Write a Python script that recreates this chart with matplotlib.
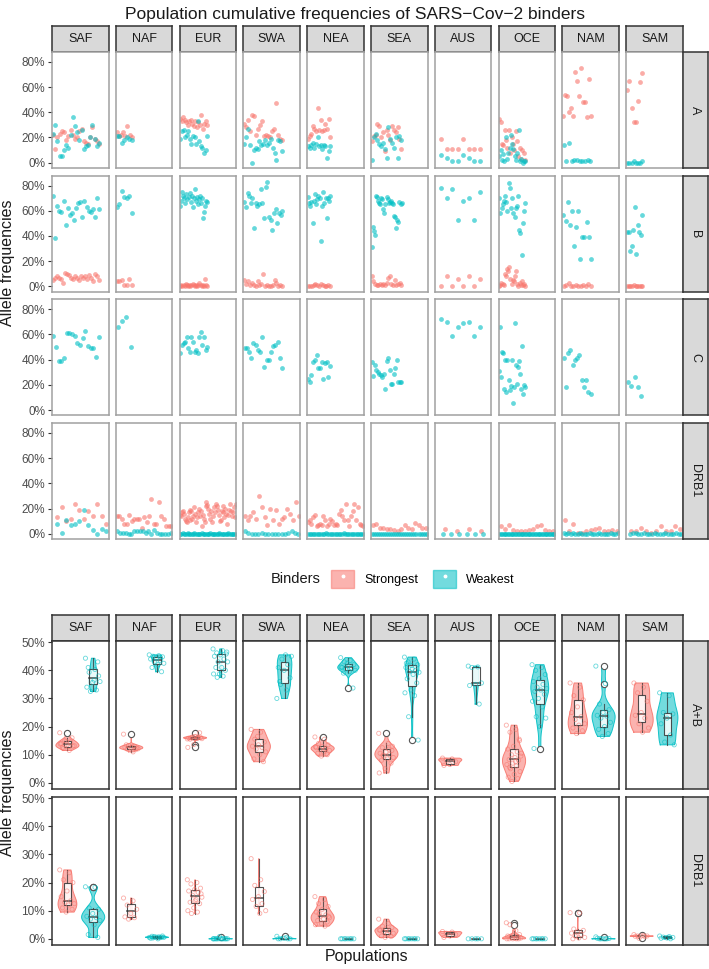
import numpy as np
import matplotlib.pyplot as plt
from matplotlib.patches import Patch, Rectangle
from matplotlib.lines import Line2D

plt.rcParams['font.family'] = ['Liberation Sans', 'DejaVu Sans']

regions = ['SAF', 'NAF', 'EUR', 'SWA', 'NEA', 'SEA', 'AUS', 'OCE', 'NAM', 'SAM']
top_genes = ['A', 'B', 'C', 'DRB1']
bottom_genes = ['A+B', 'DRB1']

# ---- top grid: cumulative frequency (%) per population, left to right, one list per region
a_strong = [
    [22, 11, 20, 23, 25, 24, 18, 21, 26, 22, 19, 20, 25, 27, 17, 16, 15, 20, 28, 19, 17, 15],
    [24, 21, 22, 24, 21, 29, 22, 20],
    [35, 33, 36, 34, 32, 30, 33, 34, 31, 29, 33, 28, 32, 30, 38, 27, 31, 33, 30],
    [31, 28, 34, 25, 38, 37, 22, 27, 30, 33, 21, 22, 21, 20, 25, 27, 47, 22, 19, 18],
    [19, 21, 23, 29, 27, 25, 43, 26, 34, 25, 26, 31, 27, 35, 20],
    [17, 21, 22, 31, 29, 20, 24, 9, 26, 22, 18, 29, 26, 24, 28, 19, 11],
    [19, 11, 11, 11, 19, 11, 11, 11],
    [35, 32, 15, 14, 26, 18, 12, 26, 8, 20, 15, 10, 25, 17, 5, 12, 3, 10, 8, 2],
    [37, 54, 53, 40, 43, 37, 72, 65, 53, 75, 48, 48, 36, 66, 37],
    [58, 65, 43, 32, 32, 49, 64, 71],
]
a_weak = [
    [23, 30, 17, 5, 5, 10, 14, 12, 22, 36, 29, 24, 18, 26, 11, 13, 14, 20, 30, 19, 13, 16],
    [21, 21, 16, 18, 20, 19, 18],
    [19, 25, 26, 20, 22, 25, 19, 15, 21, 20, 15, 33, 17, 13, 12, 8, 10, 21],
    [15, 20, 27, 14, 0, 10, 12, 11, 17, 14, 15, 18, 14, 16, 19, 12, 8, 2, 18, 17, 9],
    [13, 12, 14, 16, 12, 15, 20, 13, 14, 11, 14, 13, 4, 9, 13],
    [2, 20, 23, 18, 15, 13, 16, 11, 4, 28, 19, 16, 12, 20, 4, 21, 18],
    [6, 4, 1, 1, 6, 4, 1, 1],
    [5, 10, 2, 7, 1, 20, 3, 8, 12, 22, 15, 11, 5, 2, 8, 26, 1, 3, 0, 1, 1],
    [14, 1, 16, 1, 2, 2, 1, 1, 1, 2, 1],
    [0, 0, 0, 1, 0, 0, 0, 1],
]
b_strong = [
    [5, 7, 8, 7, 6, 3, 11, 10, 9, 7, 6, 8, 7, 5, 8, 7, 8, 6, 9, 7, 4, 10, 8, 5],
    [4, 4, 5, 1, 1, 6, 1],
    [0, 1, 0, 1, 0, 2, 1, 0, 1, 0, 1, 2, 1, 0, 1, 0, 1, 3, 1, 0, 1, 0, 6, 1, 0],
    [5, 2, 4, 1, 3, 1, 0, 4, 1, 2, 10, 0, 1, 0, 0, 1, 5, 3, 0, 1, 0],
    [0, 0, 0, 1, 2, 1, 0, 2, 1, 0, 0, 1, 0],
    [8, 4, 2, 1, 1, 2, 1, 2, 1, 3, 7, 8, 2, 1, 5, 1, 2, 3, 1],
    [0, 8, 0, 6, 0, 8, 0, 6],
    [0, 1, 3, 2, 1, 10, 8, 14, 12, 15, 6, 2, 5, 4, 8, 12, 2, 0, 3, 1, 4, 1, 2, 0],
    [0, 1, 3, 0, 0, 1, 0, 0, 1, 0, 2, 0],
    [0, 0, 0, 0, 1, 0, 0, 0, 0, 0],
]
b_weak = [
    [72, 38, 64, 60, 59, 68, 49, 62, 57, 58, 53, 62, 66, 67, 55, 68, 63, 60, 59, 61, 55, 70, 61],
    [63, 65, 76, 71, 70, 72, 58],
    [64, 68, 75, 72, 70, 66, 73, 69, 71, 74, 67, 72, 63, 70, 77, 68, 71, 65, 69, 72, 66, 70, 54, 59, 64, 68, 67],
    [67, 63, 74, 72, 66, 70, 46, 66, 64, 65, 77, 66, 54, 79, 83, 55, 53, 45, 58, 61, 50, 58, 57, 60],
    [71, 66, 64, 67, 50, 68, 73, 65, 69, 72, 70, 36, 64, 75, 66, 70, 54, 70, 68, 72],
    [31, 47, 44, 41, 72, 71, 68, 66, 65, 70, 69, 61, 58, 65, 71, 69, 66, 67, 68, 66, 65, 56, 55, 46, 53, 51, 67, 65, 66],
    [78, 70, 77, 53, 68, 70, 53, 75],
    [70, 58, 62, 65, 68, 72, 67, 60, 82, 78, 62, 70, 58, 55, 62, 64, 72, 45, 42, 25, 50, 60, 66],
    [57, 52, 67, 49, 60, 32, 47, 60, 22, 39, 39, 51, 39, 22],
    [43, 43, 28, 32, 45, 63, 26, 49, 43, 41, 57],
]
c_strong = [[], [], [], [], [], [], [], [], [], []]
c_weak = [
    [59, 50, 39, 39, 41, 61, 61, 60, 59, 53, 52, 57, 63, 51, 49, 49, 42, 58],
    [66, 71, 74, 50],
    [45, 52, 53, 54, 58, 49, 46, 58, 54, 46, 48, 45, 58, 62, 52, 58, 48, 50],
    [49, 49, 46, 41, 53, 52, 48, 46, 58, 34, 40, 40, 46, 51, 52, 54, 41, 33],
    [25, 22, 28, 38, 40, 44, 33, 33, 38, 25, 37, 38, 26, 35],
    [38, 27, 36, 32, 30, 29, 28, 26, 29, 17, 39, 41, 32, 21, 21, 29, 33, 40, 22, 22, 22],
    [72, 70, 59, 66, 69, 70, 59, 66],
    [31, 66, 26, 46, 45, 17, 40, 14, 40, 24, 16, 19, 40, 6, 18, 69, 36, 21, 34, 39, 29, 17, 51, 13, 20, 18],
    [41, 18, 45, 48, 36, 40, 41, 44, 24, 18, 24, 14, 13],
    [22, 19, 26, 18, 11],
]
drb1_strong = [
    [13, 21, 10, 12, 24, 19, 12, 18, 14, 24, 14, 8],
    [14, 14, 12, 8, 8, 15, 10, 12, 12, 12, 5, 13, 9, 14, 28, 8, 8, 25, 14, 12, 6, 6, 6],
    [15, 14, 17, 18, 16, 12, 10, 9, 13, 17, 19, 11, 18, 12, 14, 21, 16, 9, 13, 17, 20, 14, 18, 6, 15,
     12, 9, 22, 25, 23, 20, 16, 12, 18, 9, 14, 21, 17, 24, 22, 19, 15, 10, 11, 18, 22, 17, 13, 20, 16,
     8, 15, 19, 24, 18, 14, 17, 21, 13, 24],
    [14, 11, 14, 17, 12, 30, 21, 13, 7, 20, 11, 19, 8, 12, 13, 20, 16, 11, 25, 14],
    [9, 11, 8, 13, 15, 6, 7, 8, 7, 14, 11, 6, 8, 12, 10, 7, 8, 7, 16, 19, 14, 11, 24, 11, 6, 14, 18,
     24, 11, 21, 8, 7, 6],
    [7, 8, 5, 4.5, 3.8, 3.8, 3.4, 2, 3.8, 7, 4.5, 3.8, 8.8, 7, 4.5, 4.5],
    [3.8, 2, 3.8, 2],
    [6, 3.8, 7, 3, 2, 2.5, 2, 3, 4, 6, 7, 3, 2, 2],
    [11, 2, 8, 1, 1, 2.5, 3, 4, 5, 2, 2.5, 3, 2],
    [2, 2, 5, 2.5, 1, 2.5, 6, 2.5, 2, 6.5, 4],
]
drb1_weak = [
    [8, 1, 11, 7, 8, 10, 19, 7, 3, 0, 4, 2],
    [2, 1, 1, 1, 0, 0, 2, 2, 2, 2, 1, 2, 0, 3, 1, 0, 0, 0, 0, 1],
    [0, 0, 0.5, 0, 0, 0, 0.5, 0, 0, 0, 0, 0.5, 0, 0, 0, 0, 0, 0.5, 0, 0, 0, 0, 0, 0, 0.5, 0, 0, 0,
     0, 0, 0, 0.5, 0, 0, 0, 0, 0, 0, 0.5, 0, 0, 0, 0, 0, 0],
    [2, 1, 0, 0, 0, 1, 0, 0, 0, 0, 0, 0, 0, 1, 2, 1, 0],
    [0, 0, 0, 0, 0, 0, 0, 0, 0, 0, 0, 0.5, 0, 0, 0, 0, 0, 0, 0, 0, 0, 0, 0.5, 0, 0, 0, 0, 0, 0, 0,
     0, 0, 0, 0, 0],
    [0, 0, 0, 0, 0, 0, 0, 0, 0, 0, 0, 0, 0, 0, 0, 0, 0, 0, 0, 0, 0, 0, 0, 0, 0, 0, 0, 0],
    [0, 0, 0, 0, 0, 0],
    [0, 0, 0, 0, 0, 0, 0, 0, 0, 0, 0, 0, 0, 0, 0, 0, 0, 0, 0, 0, 0, 0, 0, 0, 0, 0, 0, 0, 0, 0, 0, 0,
     0, 0, 0, 0, 0, 0, 0, 0],
    [0.5, 0, 0.5, 0, 1, 0, 0, 0.5, 0, 0, 0, 0.5, 0, 0, 0, 0.5, 0, 0, 0, 0, 0.5, 0, 0, 0.5],
    [0, 0.5, 1, 0, 0, 0.5, 0, 0, 0, 0.5, 0, 0, 0, 0.5, 0, 0, 0, 1, 0, 0],
]

# ---- bottom grid: per-population cumulative frequency (%) of binders
ab_strong = [
    [17.8, 11.5, 12.2, 13, 13.5, 14, 14.5, 15, 13.2, 12.8, 12.5, 16, 14.8, 13.8],
    [17.3, 11, 12, 12.3, 12.5, 12.7, 13, 13.3, 12.1, 12.8, 13.5, 11.8],
    [15.6, 15.8, 16.0, 16.2, 16.4, 15.9, 16.1, 16.3, 15.7, 16.5, 15.5, 17.8, 13.6, 12.6, 16.0],
    [19, 18, 15.5, 14.5, 13.5, 13, 12.6, 12, 11, 10, 8.5, 7.5, 16.5],
    [16.3, 15.5, 14, 13.5, 13, 12.5, 12.2, 12, 11.5, 11, 10.5, 10, 9.5, 12.8, 11.8],
    [17.6, 14, 12.5, 11.5, 11, 10.5, 10, 9.5, 9, 8.5, 8, 7, 5, 3.5, 12, 9.8, 13],
    [8.8, 8.5, 8, 7.5, 6.5, 6.2],
    [20.5, 19, 18, 15, 13, 12, 11, 10, 9.5, 9, 8.3, 8, 7, 6.5, 6, 5, 4, 3, 2, 1.5, 0.5, 10.5, 7.5,
     5.5, 15.5],
    [35.5, 34, 31, 29.5, 27, 25, 23.5, 22.5, 21, 20.5, 19.5, 18.5, 17.5],
    [35.5, 34, 32, 29, 25, 24, 23, 21, 19.5, 18],
]
ab_weak = [
    [44.3, 40.3, 39.3, 38, 35.7, 34, 33, 32.5, 36, 36.5, 41, 43],
    [45.5, 45.2, 45, 44.8, 44.5, 44, 43.5, 43, 42.5, 42, 41, 39.5],
    [47.6, 47, 46.2, 45.8, 45.5, 45, 44, 43, 43, 41, 41, 40, 38.7, 38.7, 37.9, 37.5, 46.5],
    [30, 33, 35, 37.3, 40, 41, 42, 44, 45, 45.5, 36],
    [44.5, 43.5, 43, 42, 41.5, 41, 40.8, 40.5, 40, 39.5, 39, 33.7, 42.5, 41.2],
    [44.7, 44, 43, 42, 41.7, 41, 40, 39.5, 39.3, 38.5, 37, 35.5, 33, 32, 31, 23.5, 15.2, 40.5, 42.5],
    [41.5, 41.2, 41, 35.5, 35, 34.6, 28],
    [42, 41, 40, 38.5, 37, 36, 35, 34, 33.5, 33, 32.5, 31.5, 30, 29, 27, 23.5, 23, 20, 12.2],
    [41.5, 35.3, 28, 26, 25, 24, 23.7, 23, 21.5, 20, 19, 17.5, 16.5],
    [32, 31, 25, 24.5, 23, 21, 17, 14.5, 13.5],
]
dr_strong = [
    [24.5, 23.5, 21, 20, 17, 15, 13.5, 13, 12.5, 12, 11, 10.5, 9.5],
    [14.5, 13.5, 12, 10.5, 9, 7.8, 7.5, 7],
    [21, 20, 19.5, 18, 17.5, 17, 16.5, 15.5, 14.8, 14, 13, 12.5, 11, 10, 9.5, 9, 16, 13.5],
    [28.5, 21, 19, 16.8, 15, 14, 12.5, 11.5, 10, 9],
    [15, 14, 12.5, 11.5, 10.5, 9.5, 8.5, 8, 7.5, 7, 6.5, 6, 5.5, 5, 4.5, 9, 8],
    [7, 5.5, 4.5, 4, 3.5, 3, 2.8, 2.5, 2, 1.5, 1, 0.8, 0.5, 3.2],
    [2.6, 2.4, 2, 1.5, 1, 0.5],
    [5.7, 2.9, 5, 1.5, 1.2, 1, 0.7, 0.5, 0.3, 0.2, 0, 0, 0, 0, 0],
    [9.3, 9.2, 3.5, 3, 2.5, 2, 1.5, 1, 0.5, 0.3, 0],
    [1.5, 1.2, 1, 1, 1, 0.9, 0.8, 0.2],
]
dr_weak = [
    [18.5, 18.3, 11, 10.5, 9, 8, 7.5, 7, 6.5, 5, 1.5, 0.5],
    [0.5, 0.7, 0.3, 1, 0.6, 0.2, 0.4, 0.8, 0.5, 0, 0.9, 0.6],
    [0, 0, 0, 0, 0, 0, 0, 0, 0, 0, 0, 0, 0.8, 0],
    [0.9, 0.5, 0, 0, 0.2, 0, 0],
    [0, 0, 0, 0, 0, 0, 0, 0],
    [0, 0, 0, 0, 0, 0, 0, 0],
    [0, 0, 0, 0, 0],
    [0, 0, 0, 0, 0, 0, 0, 0],
    [0.7, 0, 0, 0.1, 0, 0.2, 0, 0],
    [1, 0.8, 0.6, 0.5, 0.3, 0.2, 0],
]

top_data = [(a_strong, a_weak), (b_strong, b_weak), (c_strong, c_weak), (drb1_strong, drb1_weak)]
bottom_data = [(ab_strong, ab_weak), (dr_strong, dr_weak)]

# horizontal spread of the population points inside each top panel
span_cls1 = [(0, .85), (0, .3), (0, .5), (0, .7), (0, .42), (0, .55), (.07, .84), (0, .48), (0, .52), (0, .3)]
span_drb1 = [(.05, 1), (0, 1), (0, 1), (0, 1), (0, 1), (0, 1), (.07, .93), (0, 1), (0, 1), (.05, 1)]

RED, TEAL = '#F8766D', '#00BFC4'
W, H = 709, 969
fig = plt.figure(figsize=(W / 100, H / 100), dpi=100)


def px_axes(x0, y0, w, h):
    return fig.add_axes([x0 / W, 1 - (y0 + h) / H, w / W, h / H])


def strip(x0, y0, w, h, label, rot=0):
    ax = px_axes(x0, y0, w, h)
    ax.set_facecolor('#D9D9D9')
    ax.set_xticks([])
    ax.set_yticks([])
    for s in ax.spines.values():
        s.set_color('#333333')
        s.set_linewidth(1.1)
    ax.text(0.5, 0.5, label, ha='center', va='center', rotation=rot, fontsize=9,
            color='#1A1A1A', transform=ax.transAxes)


col_x = [52 + i * 63.8 for i in range(10)]
col_w = 56.6


def style_panel(ax, edge, first, ticks, lim):
    ax.set_xticks([])
    for s in ax.spines.values():
        s.set_color(edge)
        s.set_linewidth(1.1)
    ax.set_ylim(*lim)
    ax.set_yticks(ticks)
    if first:
        ax.set_yticklabels([f'{t}%' for t in ticks])
        ax.tick_params(axis='y', length=3, width=0.8, color='#333333', labelsize=8.5,
                       labelcolor='#4D4D4D', pad=2)
    else:
        ax.tick_params(axis='y', length=0, labelleft=False)


# ---------------- top grid ----------------
fig.text(355 / W, 1 - 14 / H, 'Population cumulative frequencies of SARS\u2212Cov\u22122 binders',
         ha='center', va='center', fontsize=12.5, color='#1A1A1A')
for i, reg in enumerate(regions):
    strip(col_x[i], 26, col_w, 26, reg)
for r, gene in enumerate(top_genes):
    y0 = 52 + r * 123.7
    strong, weak = top_data[r]
    for i in range(10):
        ax = px_axes(col_x[i], y0, col_w, 116)
        ax.set_xlim(0, 1)
        style_panel(ax, '#A0A0A0', i == 0, [0, 20, 40, 60, 80], (-4.2, 87.8))
        s0, s1 = (span_drb1 if gene == 'DRB1' else span_cls1)[i]
        for vals, col in ((strong[i], RED), (weak[i], TEAL)):
            n = len(vals)
            if n == 0:
                continue
            xs = s0 + (s1 - s0) * (np.arange(n) + 0.5) / n
            ax.scatter(xs, vals, s=12, color=col, alpha=0.6, linewidths=0)
    strip(682.7, y0, 25.5, 116, gene, rot=-90)

fig.text(8 / W, 1 - 263 / H, 'Allele frequencies', rotation=90, ha='center', va='center',
         fontsize=11.5, color='#1A1A1A')

# ---------------- legend ----------------
fig.text(271 / W, 1 - 579 / H, 'Binders', ha='left', va='center', fontsize=10.5, color='#1A1A1A')
handles = [(Patch(facecolor=c, edgecolor=c, alpha=0.55),
            Line2D([], [], marker='o', ms=1.8, color='white', ls='')) for c in (RED, TEAL)]
fig.legend(handles, ['Strongest', 'Weakest'], loc='center left', ncol=2, frameon=False,
           bbox_to_anchor=(331 / W, 1 - 579 / H), fontsize=9, handlelength=1.85,
           handleheight=1.9, handletextpad=0.8, columnspacing=1.2, borderpad=0, borderaxespad=0)


# ---------------- bottom grid ----------------
def bw_nrd0(x):
    hi = np.std(x, ddof=1)
    q75, q25 = np.percentile(x, [75, 25])
    lo = min(hi, (q75 - q25) / 1.34)
    if lo == 0:
        lo = hi or abs(x[0]) or 1
    return 0.9 * lo * len(x) ** -0.2


def kde(vals):
    v = np.asarray(vals) / 100.0
    if v.max() == v.min():
        return None, None
    grid = np.linspace(v.min(), v.max(), 512)
    bw = bw_nrd0(v)
    d = np.exp(-0.5 * ((grid[:, None] - v[None, :]) / bw) ** 2).sum(axis=1) / (len(v) * bw * np.sqrt(2 * np.pi))
    return grid * 100, d


def boxplot(ax, vals, pos, width=0.3):
    v = np.asarray(vals, float)
    q1, med, q3 = np.percentile(v, [25, 50, 75])
    iqr = q3 - q1
    inside = v[(v >= q1 - 1.5 * iqr) & (v <= q3 + 1.5 * iqr)]
    out = v[(v < q1 - 1.5 * iqr) | (v > q3 + 1.5 * iqr)]
    bc = '#333333'
    ax.plot([pos, pos], [inside.min(), q1], color=bc, lw=0.8, alpha=0.75, zorder=3)
    ax.plot([pos, pos], [q3, inside.max()], color=bc, lw=0.8, alpha=0.75, zorder=3)
    ax.add_patch(Rectangle((pos - width / 2, q1), width, q3 - q1, facecolor='white',
                           edgecolor=bc, lw=0.8, alpha=0.85, zorder=3))
    ax.plot([pos - width / 2, pos + width / 2], [med, med], color=bc, lw=1.2, alpha=0.8, zorder=4)
    if len(out):
        ax.scatter(np.full(len(out), pos), out, s=20, facecolors='white', edgecolors='#555555',
                   linewidths=0.8, zorder=4)


for i, reg in enumerate(regions):
    strip(col_x[i], 615, col_w, 25.5, reg)
for r, gene in enumerate(bottom_genes):
    y0 = 640.5 + r * 156
    strong, weak = bottom_data[r]
    for i in range(10):
        ax = px_axes(col_x[i], y0, col_w, 148.5)
        ax.set_xlim(0.4, 2.6)
        style_panel(ax, '#333333', i == 0, [0, 10, 20, 30, 40, 50], (-2.2, 50.6))
        groups = [(strong[i], RED, 1), (weak[i], TEAL, 2)]
        dens = [kde(g[0]) for g in groups]
        dmax = max(d.max() for _, d in dens if d is not None)
        for (vals, col, pos), (yg, d) in zip(groups, dens):
            if d is not None:
                half = d / dmax * 0.45
                ax.fill_betweenx(yg, pos - half, pos + half, facecolor=col, alpha=0.55,
                                 linewidth=0, zorder=1)
                ax.plot(np.r_[pos - half, (pos + half)[::-1], pos - half[0]],
                        np.r_[yg, yg[::-1], yg[0]], color=col, lw=0.7, alpha=0.9, zorder=2)
            boxplot(ax, vals, pos)
            n = len(vals)
            jit = ((np.arange(n) * 0.618034) % 1 - 0.5) * 0.6
            ax.scatter(pos + jit, vals, s=9, facecolors='none', edgecolors=col,
                       linewidths=0.6, alpha=0.6, zorder=5)
    strip(682.7, y0, 25.5, 148.5, gene, rot=-90)

fig.text(8 / W, 1 - 793 / H, 'Allele frequencies', rotation=90, ha='center', va='center',
         fontsize=11.5, color='#1A1A1A')
fig.text(367 / W, 1 - 957 / H, 'Populations', ha='center', va='center', fontsize=11.5,
         color='#1A1A1A')

fig.savefig('out.png', dpi=100)
